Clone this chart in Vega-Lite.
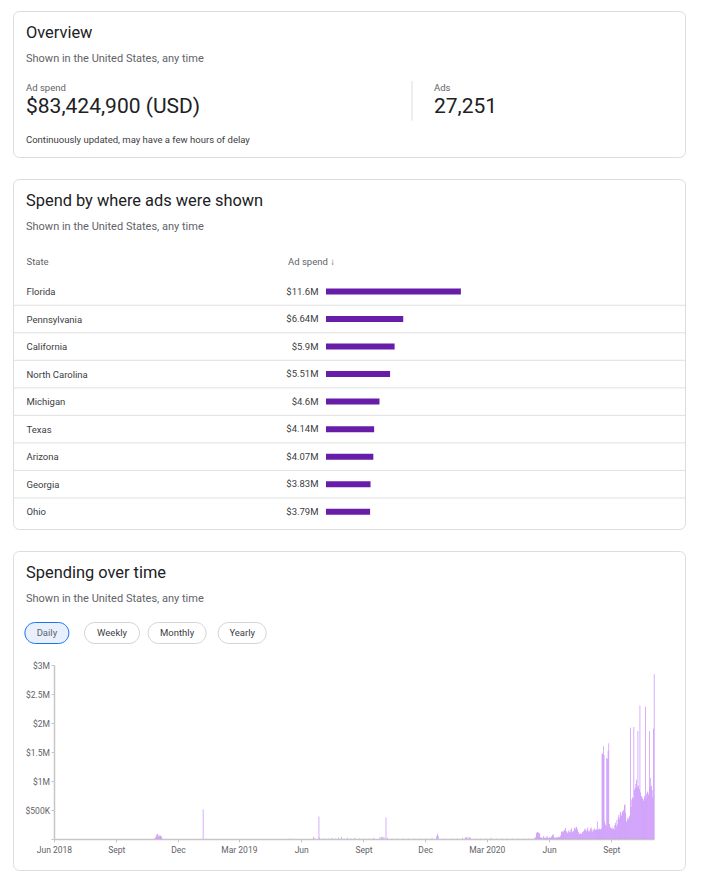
{
  "$schema": "https://vega.github.io/schema/vega-lite/v6.json",
  "background": "white",
  "padding": {"left": 12, "top": 10, "right": 22, "bottom": 12},
  "spacing": 20,
  "config": {
    "font": "Roboto",
    "view": {"stroke": "#dadce0", "cornerRadius": 6, "strokeWidth": 1},
    "axis": {"grid": false, "labelFont": "Roboto", "titleFont": "Roboto"},
    "title": {"anchor": "start", "frame": "group", "font": "Roboto", "fontWeight": 400, "color": "#202124", "fontSize": 16.4, "subtitleFont": "Roboto", "subtitleFontSize": 11, "subtitleColor": "#5f6368", "subtitlePadding": 12}
  },
  "datasets": {
    "kpi": [
      {"col": "spend", "line": "label", "text": "Ad spend"},
      {"col": "spend", "line": "value", "text": "$83,424,900 (USD)"},
      {"col": "spend", "line": "note", "text": "Continuously updated, may have a few hours of delay"},
      {"col": "ads", "line": "label", "text": "Ads"},
      {"col": "ads", "line": "value", "text": "27,251"}
    ],
    "states": [
      {"state": "Florida", "spend": 11600000},
      {"state": "Pennsylvania", "spend": 6640000},
      {"state": "California", "spend": 5900000},
      {"state": "North Carolina", "spend": 5510000},
      {"state": "Michigan", "spend": 4600000},
      {"state": "Texas", "spend": 4140000},
      {"state": "Arizona", "spend": 4070000},
      {"state": "Georgia", "spend": 3830000},
      {"state": "Ohio", "spend": 3790000}
    ],
    "buttons": [
      {"button": "Daily", "status": "selected"},
      {"button": "Weekly", "status": "default"},
      {"button": "Monthly", "status": "default"},
      {"button": "Yearly", "status": "default"}
    ],
    "daily": [
      {"date": "2018-10-27", "spend": 0.02}, {"date": "2018-10-28", "spend": 0.03}, {"date": "2018-10-29", "spend": 0.06}, {"date": "2018-10-30", "spend": 0.09}, {"date": "2018-10-31", "spend": 0.08}, {"date": "2018-11-01", "spend": 0.05}, {"date": "2018-11-02", "spend": 0.07}, {"date": "2018-11-03", "spend": 0.04}, {"date": "2018-11-04", "spend": 0.06}, {"date": "2018-11-05", "spend": 0.05}, {"date": "2018-11-06", "spend": 0.03},
      {"date": "2019-01-06", "spend": 0.51},
      {"date": "2019-05-14", "spend": 0.01}, {"date": "2019-06-18", "spend": 0.04}, {"date": "2019-06-20", "spend": 0.01}, {"date": "2019-06-26", "spend": 0.39}, {"date": "2019-06-27", "spend": 0.02}, {"date": "2019-07-01", "spend": 0.01}, {"date": "2019-07-05", "spend": 0.01}, {"date": "2019-07-10", "spend": 0.01}, {"date": "2019-07-15", "spend": 0.02}, {"date": "2019-07-20", "spend": 0.01}, {"date": "2019-07-25", "spend": 0.02}, {"date": "2019-07-29", "spend": 0.04}, {"date": "2019-08-02", "spend": 0.01}, {"date": "2019-08-07", "spend": 0.02}, {"date": "2019-08-12", "spend": 0.01}, {"date": "2019-08-18", "spend": 0.02}, {"date": "2019-08-25", "spend": 0.01}, {"date": "2019-09-01", "spend": 0.01}, {"date": "2019-09-08", "spend": 0.01}, {"date": "2019-09-15", "spend": 0.02}, {"date": "2019-09-24", "spend": 0.03}, {"date": "2019-09-26", "spend": 0.04}, {"date": "2019-09-28", "spend": 0.03}, {"date": "2019-09-30", "spend": 0.04}, {"date": "2019-10-03", "spend": 0.37}, {"date": "2019-10-05", "spend": 0.02}, {"date": "2019-10-12", "spend": 0.01}, {"date": "2019-10-20", "spend": 0.01}, {"date": "2019-10-28", "spend": 0.01}, {"date": "2019-11-05", "spend": 0.01}, {"date": "2019-11-14", "spend": 0.01}, {"date": "2019-11-22", "spend": 0.01}, {"date": "2019-12-02", "spend": 0.01}, {"date": "2019-12-10", "spend": 0.02}, {"date": "2019-12-17", "spend": 0.05}, {"date": "2019-12-18", "spend": 0.09}, {"date": "2019-12-19", "spend": 0.05}, {"date": "2019-12-27", "spend": 0.01},
      {"date": "2020-01-08", "spend": 0.01}, {"date": "2020-01-16", "spend": 0.01}, {"date": "2020-01-24", "spend": 0.02}, {"date": "2020-01-28", "spend": 0.03}, {"date": "2020-01-30", "spend": 0.03}, {"date": "2020-02-01", "spend": 0.03}, {"date": "2020-02-03", "spend": 0.03}, {"date": "2020-02-05", "spend": 0.02}, {"date": "2020-02-12", "spend": 0.01}, {"date": "2020-02-20", "spend": 0.01}, {"date": "2020-02-28", "spend": 0.01}, {"date": "2020-03-06", "spend": 0.02}, {"date": "2020-03-14", "spend": 0.01}, {"date": "2020-03-22", "spend": 0.01}, {"date": "2020-03-30", "spend": 0.01}, {"date": "2020-04-07", "spend": 0.01}, {"date": "2020-04-15", "spend": 0.01}, {"date": "2020-04-23", "spend": 0.01}, {"date": "2020-05-01", "spend": 0.01}, {"date": "2020-05-06", "spend": 0.01},
      {"date": "2020-05-10", "spend": 0.02}, {"date": "2020-05-11", "spend": 0.03}, {"date": "2020-05-12", "spend": 0.10}, {"date": "2020-05-13", "spend": 0.11}, {"date": "2020-05-14", "spend": 0.12}, {"date": "2020-05-15", "spend": 0.11}, {"date": "2020-05-16", "spend": 0.09}, {"date": "2020-05-17", "spend": 0.10}, {"date": "2020-05-18", "spend": 0.03}, {"date": "2020-05-19", "spend": 0.02}, {"date": "2020-05-20", "spend": 0.02}, {"date": "2020-05-21", "spend": 0.01}, {"date": "2020-05-22", "spend": 0.03}, {"date": "2020-05-23", "spend": 0.05}, {"date": "2020-05-24", "spend": 0.02}, {"date": "2020-05-25", "spend": 0.01}, {"date": "2020-05-26", "spend": 0.02}, {"date": "2020-05-27", "spend": 0.03}, {"date": "2020-05-28", "spend": 0.05}, {"date": "2020-05-29", "spend": 0.02}, {"date": "2020-05-30", "spend": 0.01}, {"date": "2020-05-31", "spend": 0.02},
      {"date": "2020-06-01", "spend": 0.03}, {"date": "2020-06-02", "spend": 0.02}, {"date": "2020-06-03", "spend": 0.03}, {"date": "2020-06-04", "spend": 0.05}, {"date": "2020-06-05", "spend": 0.07}, {"date": "2020-06-06", "spend": 0.08}, {"date": "2020-06-07", "spend": 0.03}, {"date": "2020-06-08", "spend": 0.02}, {"date": "2020-06-09", "spend": 0.02}, {"date": "2020-06-10", "spend": 0.03}, {"date": "2020-06-11", "spend": 0.02}, {"date": "2020-06-12", "spend": 0.03}, {"date": "2020-06-13", "spend": 0.02}, {"date": "2020-06-14", "spend": 0.04}, {"date": "2020-06-15", "spend": 0.03}, {"date": "2020-06-16", "spend": 0.04}, {"date": "2020-06-17", "spend": 0.06}, {"date": "2020-06-18", "spend": 0.12}, {"date": "2020-06-19", "spend": 0.14}, {"date": "2020-06-20", "spend": 0.11}, {"date": "2020-06-21", "spend": 0.13}, {"date": "2020-06-22", "spend": 0.15}, {"date": "2020-06-23", "spend": 0.16}, {"date": "2020-06-24", "spend": 0.19}, {"date": "2020-06-25", "spend": 0.14}, {"date": "2020-06-26", "spend": 0.12}, {"date": "2020-06-27", "spend": 0.10}, {"date": "2020-06-28", "spend": 0.13}, {"date": "2020-06-29", "spend": 0.15}, {"date": "2020-06-30", "spend": 0.11},
      {"date": "2020-07-01", "spend": 0.12}, {"date": "2020-07-02", "spend": 0.16}, {"date": "2020-07-03", "spend": 0.18}, {"date": "2020-07-04", "spend": 0.13}, {"date": "2020-07-05", "spend": 0.11}, {"date": "2020-07-06", "spend": 0.14}, {"date": "2020-07-07", "spend": 0.18}, {"date": "2020-07-08", "spend": 0.20}, {"date": "2020-07-09", "spend": 0.17}, {"date": "2020-07-10", "spend": 0.21}, {"date": "2020-07-11", "spend": 0.19}, {"date": "2020-07-12", "spend": 0.16}, {"date": "2020-07-13", "spend": 0.12}, {"date": "2020-07-14", "spend": 0.08}, {"date": "2020-07-15", "spend": 0.09}, {"date": "2020-07-16", "spend": 0.10}, {"date": "2020-07-17", "spend": 0.08}, {"date": "2020-07-18", "spend": 0.09}, {"date": "2020-07-19", "spend": 0.12}, {"date": "2020-07-20", "spend": 0.11}, {"date": "2020-07-21", "spend": 0.14}, {"date": "2020-07-22", "spend": 0.16}, {"date": "2020-07-23", "spend": 0.18}, {"date": "2020-07-24", "spend": 0.15}, {"date": "2020-07-25", "spend": 0.13}, {"date": "2020-07-26", "spend": 0.17}, {"date": "2020-07-27", "spend": 0.20}, {"date": "2020-07-28", "spend": 0.14}, {"date": "2020-07-29", "spend": 0.12}, {"date": "2020-07-30", "spend": 0.15}, {"date": "2020-07-31", "spend": 0.18},
      {"date": "2020-08-01", "spend": 0.20}, {"date": "2020-08-02", "spend": 0.15}, {"date": "2020-08-03", "spend": 0.13}, {"date": "2020-08-04", "spend": 0.17}, {"date": "2020-08-05", "spend": 0.14}, {"date": "2020-08-06", "spend": 0.18}, {"date": "2020-08-07", "spend": 0.16}, {"date": "2020-08-08", "spend": 0.15}, {"date": "2020-08-09", "spend": 0.17}, {"date": "2020-08-10", "spend": 0.30}, {"date": "2020-08-11", "spend": 0.16}, {"date": "2020-08-12", "spend": 0.17}, {"date": "2020-08-13", "spend": 0.18}, {"date": "2020-08-14", "spend": 0.16}, {"date": "2020-08-15", "spend": 0.17}, {"date": "2020-08-16", "spend": 0.18}, {"date": "2020-08-17", "spend": 1.46}, {"date": "2020-08-18", "spend": 1.48}, {"date": "2020-08-19", "spend": 1.60}, {"date": "2020-08-20", "spend": 1.45}, {"date": "2020-08-21", "spend": 0.30}, {"date": "2020-08-22", "spend": 0.25}, {"date": "2020-08-23", "spend": 0.22}, {"date": "2020-08-24", "spend": 1.40}, {"date": "2020-08-25", "spend": 1.38}, {"date": "2020-08-26", "spend": 1.52}, {"date": "2020-08-27", "spend": 1.65}, {"date": "2020-08-28", "spend": 0.26}, {"date": "2020-08-29", "spend": 0.21}, {"date": "2020-08-30", "spend": 0.19}, {"date": "2020-08-31", "spend": 0.18},
      {"date": "2020-09-01", "spend": 0.17}, {"date": "2020-09-02", "spend": 0.20}, {"date": "2020-09-03", "spend": 0.18}, {"date": "2020-09-04", "spend": 0.16}, {"date": "2020-09-05", "spend": 0.24}, {"date": "2020-09-06", "spend": 0.28}, {"date": "2020-09-07", "spend": 0.21}, {"date": "2020-09-08", "spend": 0.33}, {"date": "2020-09-09", "spend": 0.25}, {"date": "2020-09-10", "spend": 0.38}, {"date": "2020-09-11", "spend": 0.42}, {"date": "2020-09-12", "spend": 0.35}, {"date": "2020-09-13", "spend": 0.47}, {"date": "2020-09-14", "spend": 0.44}, {"date": "2020-09-15", "spend": 0.40}, {"date": "2020-09-16", "spend": 0.48}, {"date": "2020-09-17", "spend": 0.46}, {"date": "2020-09-18", "spend": 0.50}, {"date": "2020-09-19", "spend": 0.58}, {"date": "2020-09-20", "spend": 0.60}, {"date": "2020-09-21", "spend": 0.45}, {"date": "2020-09-22", "spend": 0.30}, {"date": "2020-09-23", "spend": 0.32}, {"date": "2020-09-24", "spend": 0.36}, {"date": "2020-09-25", "spend": 0.34}, {"date": "2020-09-26", "spend": 0.38}, {"date": "2020-09-27", "spend": 0.40}, {"date": "2020-09-28", "spend": 1.92}, {"date": "2020-09-29", "spend": 0.55}, {"date": "2020-09-30", "spend": 0.68},
      {"date": "2020-10-01", "spend": 0.72}, {"date": "2020-10-02", "spend": 0.70}, {"date": "2020-10-03", "spend": 1.93}, {"date": "2020-10-04", "spend": 0.85}, {"date": "2020-10-05", "spend": 0.88}, {"date": "2020-10-06", "spend": 0.95}, {"date": "2020-10-07", "spend": 1.02}, {"date": "2020-10-08", "spend": 0.90}, {"date": "2020-10-09", "spend": 1.86}, {"date": "2020-10-10", "spend": 0.92}, {"date": "2020-10-11", "spend": 0.86}, {"date": "2020-10-12", "spend": 2.30}, {"date": "2020-10-13", "spend": 0.80}, {"date": "2020-10-14", "spend": 0.74}, {"date": "2020-10-15", "spend": 0.72}, {"date": "2020-10-16", "spend": 0.70}, {"date": "2020-10-17", "spend": 0.66}, {"date": "2020-10-18", "spend": 0.69}, {"date": "2020-10-19", "spend": 0.74}, {"date": "2020-10-20", "spend": 2.28}, {"date": "2020-10-21", "spend": 0.70}, {"date": "2020-10-22", "spend": 0.78}, {"date": "2020-10-23", "spend": 0.82}, {"date": "2020-10-24", "spend": 0.80}, {"date": "2020-10-25", "spend": 0.76}, {"date": "2020-10-26", "spend": 1.86}, {"date": "2020-10-27", "spend": 0.90}, {"date": "2020-10-28", "spend": 1.05}, {"date": "2020-10-29", "spend": 0.92}, {"date": "2020-10-30", "spend": 0.85}, {"date": "2020-10-31", "spend": 0.72},
      {"date": "2020-11-01", "spend": 1.90}, {"date": "2020-11-02", "spend": 2.84}
    ]
  },
  "vconcat": [
    {
      "width": 672,
      "height": 146,
      "title": {"text": "Overview", "subtitle": "Shown in the United States, any time", "anchor": "start", "frame": "group", "offset": -53, "dx": 13},
      "data": {"name": "kpi"},
      "encoding": {
        "x": {"field": "col", "type": "nominal", "scale": {"type": "point", "domain": ["spend", "ads"], "range": [13, 421], "padding": 0}, "axis": null},
        "y": {"field": "line", "type": "nominal", "scale": {"type": "point", "domain": ["label", "value", "note"], "range": [76.5, 128.8], "padding": 0}, "axis": null}
      },
      "layer": [
        {
          "transform": [{"filter": "datum.col == 'ads' && datum.line == 'label'"}],
          "mark": {"type": "rule", "color": "#dadce0", "strokeWidth": 1, "xOffset": -22, "yOffset": -6.5, "y2Offset": 7},
          "encoding": {"y2": {"datum": "value"}}
        },
        {
          "transform": [{"filter": "datum.line != 'value'"}],
          "mark": {"type": "text", "align": "left", "baseline": "middle", "fontSize": 9.5},
          "encoding": {
            "text": {"field": "text"},
            "color": {"field": "line", "type": "nominal", "scale": {"domain": ["label", "note"], "range": ["#5f6368", "#3c4043"]}, "legend": null}
          }
        },
        {
          "transform": [{"filter": "datum.line == 'value'"}],
          "mark": {"type": "text", "align": "left", "baseline": "middle", "fontSize": 21, "color": "#202124", "dy": -6.5},
          "encoding": {"text": {"field": "text"}}
        }
      ]
    },
    {
      "width": 672,
      "height": 350,
      "title": {"text": "Spend by where ads were shown", "subtitle": "Shown in the United States, any time", "anchor": "start", "frame": "group", "offset": -53, "dx": 13},
      "data": {"name": "states"},
      "encoding": {
        "y": {
          "field": "state", "type": "nominal",
          "scale": {"type": "point", "domain": ["Florida", "Pennsylvania", "California", "North Carolina", "Michigan", "Texas", "Arizona", "Georgia", "Ohio"], "range": [112.5, 332.7], "padding": 0},
          "axis": {"orient": "left", "offset": -13, "domain": false, "ticks": false, "tickSize": 0, "labelAlign": "left", "labelPadding": 0, "labelFontSize": 9.5, "labelColor": "#3c4043", "title": "State", "titleAngle": 0, "titleAlign": "left", "titleBaseline": "middle", "titleX": 0, "titleY": 82, "titleFontSize": 9.5, "titleFontWeight": 400, "titleColor": "#5f6368"}
        }
      },
      "layer": [
        {
          "transform": [{"filter": "datum.state != 'Ohio'"}],
          "mark": {"type": "rule", "color": "#e0e0e0", "strokeWidth": 1, "yOffset": 13.75, "x2Offset": -10},
          "encoding": {}
        },
        {
          "mark": {"type": "bar", "color": "#681da8", "size": 6},
          "encoding": {
            "x": {
              "field": "spend", "type": "quantitative",
              "scale": {"domain": [0, 11600000], "range": [313, 447.9], "nice": false, "zero": true},
              "axis": {"orient": "top", "offset": -82, "domain": false, "ticks": false, "labels": false, "grid": false, "title": "Ad spend  ↓", "titleX": 274.5, "titleY": 0.5, "titleAngle": 0, "titleAlign": "left", "titleBaseline": "middle", "titleFontSize": 9.5, "titleFontWeight": 400, "titleColor": "#5f6368"}
            }
          }
        },
        {
          "mark": {"type": "text", "align": "right", "baseline": "middle", "dx": -7.5, "fontSize": 9.5, "color": "#3c4043"},
          "encoding": {
            "x": {"datum": 0, "type": "quantitative"},
            "text": {"field": "spend", "type": "quantitative", "format": "$.3~s"}
          }
        }
      ]
    },
    {
      "width": 672,
      "height": 319,
      "title": {"text": "Spending over time", "subtitle": "Shown in the United States, any time", "anchor": "start", "frame": "group", "offset": -53, "dx": 13},
      "resolve": {"scale": {"x": "independent", "y": "independent"}},
      "layer": [
        {
          "data": {"name": "buttons"},
          "mark": {"type": "point", "filled": true, "size": 4, "opacity": 1, "strokeWidth": 1},
          "encoding": {
            "x": {"field": "button", "type": "nominal", "scale": {"type": "point", "domain": ["Daily", "Weekly", "Monthly", "Yearly"], "range": [33.9, 229.2], "padding": 0}, "axis": null},
            "y": {"datum": "buttons", "type": "nominal", "scale": {"type": "point", "domain": ["buttons"], "range": [82, 82], "padding": 0}, "axis": null},
            "shape": {"field": "button", "type": "nominal", "scale": {"domain": ["Daily", "Weekly", "Monthly", "Yearly"], "range": [
              "M-11.5,-10.5L11.5,-10.5A10.5,10.5,0,0,1,11.5,10.5L-11.5,10.5A10.5,10.5,0,0,1,-11.5,-10.5Z",
              "M-17,-10.5L17,-10.5A10.5,10.5,0,0,1,17,10.5L-17,10.5A10.5,10.5,0,0,1,-17,-10.5Z",
              "M-18.5,-10.5L18.5,-10.5A10.5,10.5,0,0,1,18.5,10.5L-18.5,10.5A10.5,10.5,0,0,1,-18.5,-10.5Z",
              "M-13.5,-10.5L13.5,-10.5A10.5,10.5,0,0,1,13.5,10.5L-13.5,10.5A10.5,10.5,0,0,1,-13.5,-10.5Z"
            ]}, "legend": null},
            "fill": {"field": "status", "type": "nominal", "scale": {"domain": ["selected", "default"], "range": ["#e8f0fe", "#ffffff"]}, "legend": null},
            "stroke": {"field": "status", "type": "nominal", "scale": {"domain": ["selected", "default"], "range": ["#1a73e8", "#d2d4d7"]}, "legend": null}
          }
        },
        {
          "data": {"name": "buttons"},
          "mark": {"type": "text", "fontSize": 9.5, "fontWeight": 400, "baseline": "middle", "align": "center"},
          "encoding": {
            "x": {"field": "button", "type": "nominal", "scale": {"type": "point", "domain": ["Daily", "Weekly", "Monthly", "Yearly"], "range": [33.9, 229.2], "padding": 0}, "axis": null},
            "y": {"datum": "buttons", "type": "nominal", "scale": {"type": "point", "domain": ["buttons"], "range": [82, 82], "padding": 0}, "axis": null},
            "text": {"field": "button"},
            "color": {"field": "status", "type": "nominal", "scale": {"domain": ["selected", "default"], "range": ["#1967d2", "#3c4043"]}, "legend": null}
          }
        },
        {
          "data": {"name": "daily"},
          "mark": {"type": "bar", "color": "#c58af9", "binSpacing": 0},
          "encoding": {
            "x": {
              "field": "date", "type": "temporal", "timeUnit": "utcyearmonthdate",
              "scale": {"type": "utc", "domain": [{"year": 2018, "month": 6, "date": 1, "utc": true}, {"year": 2020, "month": 11, "date": 3, "utc": true}], "range": [41, 641]},
              "axis": {
                "orient": "bottom", "offset": -31, "title": null, "grid": false,
                "values": [
                  {"year": 2018, "month": 6, "date": 1, "utc": true}, {"year": 2018, "month": 9, "date": 1, "utc": true}, {"year": 2018, "month": 12, "date": 1, "utc": true},
                  {"year": 2019, "month": 3, "date": 1, "utc": true}, {"year": 2019, "month": 6, "date": 1, "utc": true}, {"year": 2019, "month": 9, "date": 1, "utc": true}, {"year": 2019, "month": 12, "date": 1, "utc": true},
                  {"year": 2020, "month": 3, "date": 1, "utc": true}, {"year": 2020, "month": 6, "date": 1, "utc": true}, {"year": 2020, "month": 9, "date": 1, "utc": true}
                ],
                "labelExpr": "utcmonth(datum.value) == 8 ? 'Sept' : ((utcmonth(datum.value) == 2 || (utcyear(datum.value) == 2018 && utcmonth(datum.value) == 5)) ? utcFormat(datum.value, '%b %Y') : utcFormat(datum.value, '%b'))",
                "tickSize": 3, "tickColor": "#c6c6c6", "domainColor": "#c6c6c6", "domainWidth": 1.5,
                "labelFontSize": 8.5, "labelColor": "#5f6368", "labelPadding": 3, "labelFlush": false, "labelOverlap": false
              }
            },
            "y": {
              "field": "spend", "type": "quantitative",
              "scale": {"domain": [0, 3], "range": [288, 114], "nice": false, "zero": true},
              "axis": {
                "orient": "left", "offset": -41, "title": null, "grid": false,
                "values": [0, 0.5, 1, 1.5, 2, 2.5, 3],
                "labelExpr": "datum.value == 0 ? '' : (datum.value < 1 ? '$' + (datum.value * 1000) + 'K' : '$' + datum.value + 'M')",
                "tickSize": 3, "tickColor": "#c6c6c6", "domainColor": "#c6c6c6", "domainWidth": 1.5,
                "labelFontSize": 8.5, "labelColor": "#5f6368", "labelPadding": 1.5
              }
            }
          }
        }
      ]
    }
  ]
}
